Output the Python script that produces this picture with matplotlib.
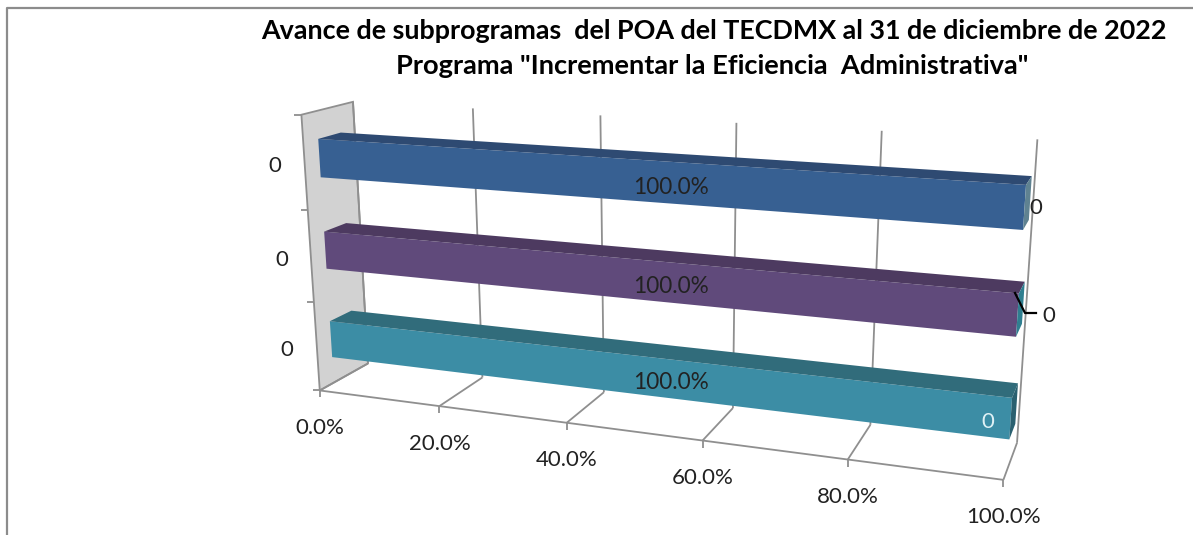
import numpy as np
import matplotlib
matplotlib.use("Agg")
import matplotlib.pyplot as plt
from matplotlib.patches import Polygon

# Data
series_names = ["0", "0", "0"]
series_values = [100.0, 100.0, 100.0]
tick_values = [0, 20, 40, 60, 80, 100]
tick_labels = ["0.0%", "20.0%", "40.0%", "60.0%", "80.0%", "100.0%"]
value_labels = ["100.0%", "100.0%", "100.0%"]
end_labels = ["0", "0", "0"]

title_line1 = 'Avance de subprogramas  del POA del TECDMX al 31 de diciembre de 2022'
title_line2 = 'Programa "Incrementar la Eficiencia  Administrativa"'

# colours per bar: front, top, side
front_colors = ["#376092", "#604a7b", "#3c8da5"]
top_colors = ["#2e4a72", "#4d3a60", "#316c7b"]
side_colors = ["#5f8291", "#2f7f90", "#2a6070"]
line_color = "#8f8f8f"

plt.rcParams["font.family"] = ["Lato", "DejaVu Sans"]

# Fit a perspective camera for the 3D box: (value, depth, height) -> pixels
box_points = [
    (0, 0, 0, 320, 390), (0, 1, 0, 368, 363), (0, 0, 1, 301, 115), (0, 1, 1, 353, 102),
    (100, 0, 0, 1003, 479), (100, 1, 0, 1017, 443), (100, 1, 1, 1037, 139),
    (20, 0, 0, 439, 405), (40, 0, 0, 567, 423), (60, 0, 0, 703, 442), (80, 0, 0, 848, 460),
    (20, 1, 0, 482, 378), (20, 1, 1, 473, 109), (60, 1, 1, 737, 122),
]
rows = []
for v, d, h, px, py in box_points:
    p = [v / 100, d, h, 1]
    rows.append(p + [0, 0, 0, 0] + [-px * c for c in p])
    rows.append([0, 0, 0, 0] + p + [-py * c for c in p])
camera = np.linalg.svd(np.array(rows, dtype=float))[2][-1].reshape(3, 4)


def project(v, d, h):
    x, y, w = camera @ np.array([v / 100, d, h, 1.0])
    return x / w, y / w


fig = plt.figure(figsize=(11.93, 5.35), dpi=100)
ax = fig.add_axes([0, 0, 1, 1])
ax.set_xlim(0, 1193)
ax.set_ylim(535, 0)
ax.axis("off")


def line(a, b, color=line_color, lw=1.3, z=2):
    ax.plot([a[0], b[0]], [a[1], b[1]], color=color, lw=lw, zorder=z, solid_capstyle="butt")


# chart frame, only left and top show in the crop
ax.plot([7, 7, 1193], [535, 8, 8], color="#8c8c8c", lw=1.6)

# side wall
ax.add_patch(Polygon([project(0, 0, 0), project(0, 1, 0), project(0, 1, 1), project(0, 0, 1)],
                     facecolor="#d2d2d2", edgecolor=line_color, lw=1.3, zorder=1))

# gridlines and floor
for t in tick_values:
    line(project(t, 1, 0), project(t, 1, 1))
    line(project(t, 0, 0), project(t, 1, 0))
    tx, ty = project(t, 0, 0)
    line((tx, ty), (tx, ty + 7))
line(project(0, 0, 0), project(100, 0, 0))

# category ticks on the wall
for c in range(4):
    tx, ty = project(0, 0, c / 3)
    line((tx - 7, ty), (tx, ty))

# bars, top one first
depth_front, depth_back = 0.28, 0.72
band_low, band_high = 0.295, 0.705
for i, value in enumerate(series_values):
    low = (2 - i + band_low) / 3
    high = (2 - i + band_high) / 3
    ax.add_patch(Polygon([project(0, depth_front, low), project(value, depth_front, low),
                          project(value, depth_front, high), project(0, depth_front, high)],
                         facecolor=front_colors[i], edgecolor="none", zorder=3))
    ax.add_patch(Polygon([project(0, depth_front, high), project(value, depth_front, high),
                          project(value, depth_back, high), project(0, depth_back, high)],
                         facecolor=top_colors[i], edgecolor="none", zorder=3))
    ax.add_patch(Polygon([project(value, depth_front, low), project(value, depth_back, low),
                          project(value, depth_back, high), project(value, depth_front, high)],
                         facecolor=side_colors[i], edgecolor="none", zorder=3))

# title
ax.text(714, 31, title_line1, ha="center", va="center", fontsize=19.4, fontweight="bold",
        color="#000000", zorder=5)
ax.text(712, 66, title_line2, ha="center", va="center", fontsize=19.6, fontweight="bold",
        color="#000000", zorder=5)

# tick labels
for t, lab in zip(tick_values, tick_labels):
    tx, ty = project(t, 0, 0)
    ax.text(tx, ty + 37.5, lab, ha="center", va="center", fontsize=16, color="#222222", zorder=5)

# category and data labels
for name, (x, y) in zip(series_names, [(275, 166.5), (282, 259.5), (287, 349.5)]):
    ax.text(x, y, name, ha="center", va="center", fontsize=16, color="#222222", zorder=5)
for lab, (x, y) in zip(value_labels, [(671, 187.5), (671, 286.5), (671, 382.5)]):
    ax.text(x, y, lab, ha="center", va="center", fontsize=16.3, color="#222222", zorder=5)
for lab, (x, y), col in zip(end_labels, [(1036, 208.5), (1049, 315.5), (988, 422.5)],
                            ["#222222", "#222222", "#dff1f5"]):
    ax.text(x, y, lab, ha="center", va="center", fontsize=16, color=col, zorder=5)

# leader line of the purple bar label
ax.plot([1015, 1025, 1036], [293, 313, 313], color="#000000", lw=1.6, zorder=6)

fig.savefig("out.png", dpi=100)
